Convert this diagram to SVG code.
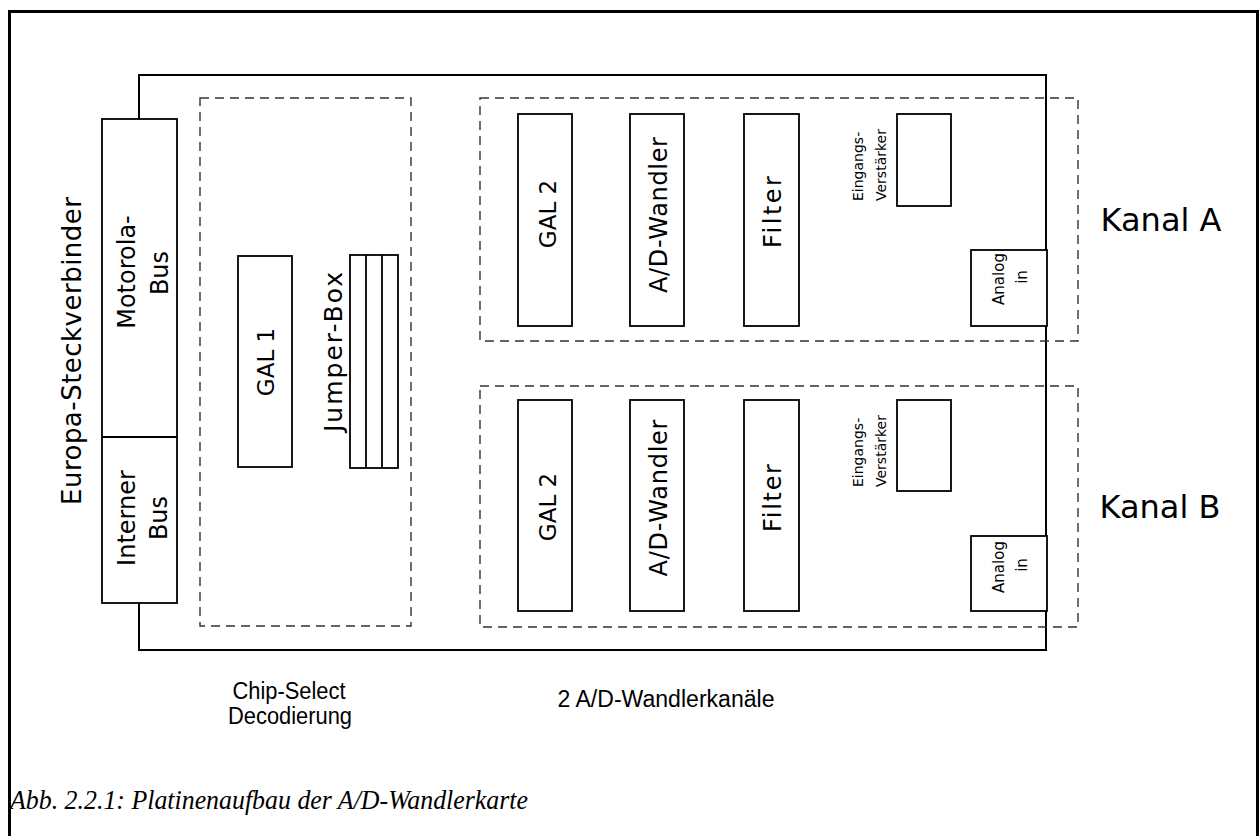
<svg xmlns="http://www.w3.org/2000/svg" width="1260" height="836" viewBox="0 0 1260 836">
<style>
  .frame{fill:none;stroke:#000;stroke-width:3}
  .board{fill:none;stroke:#000;stroke-width:2}
  .box{fill:#fff;stroke:#000;stroke-width:1.8}
  .dash{fill:none;stroke:#333;stroke-width:1.4;stroke-dasharray:9 6}
  .t{font-family:"DejaVu Sans",Verdana,sans-serif;fill:#000;text-anchor:middle}
  .s{font-family:"DejaVu Sans",Verdana,sans-serif;fill:#000;text-anchor:start}
  .n{font-family:"Liberation Sans",Arial,sans-serif;fill:#000;text-anchor:middle}
  .cap{font-family:"Liberation Serif","Times New Roman",serif;font-style:italic;fill:#000}
</style>
<rect width="1260" height="836" fill="#fff"/>
<path class="frame" d="M9.5 840 V11.5 H1257.5 V840"/>
<g id="connectors">
  <path class="board" d="M139 119 V75 H1046 V650 H139 V603"/>
</g>
<g id="europa-steckverbinder">
  <rect class="box" x="102" y="119" width="75" height="484"/>
  <line x1="102" y1="437" x2="177" y2="437" stroke="#000" stroke-width="1.8"/>
  <text class="t" font-size="26" transform="translate(81,351) rotate(-90)" textLength="308" lengthAdjust="spacing">Europa-Steckverbinder</text>
</g>
<g id="motorola-bus">
  <text class="t" font-size="24" transform="translate(135,272) rotate(-90)">Motorola-</text>
  <text class="t" font-size="24" transform="translate(168,273) rotate(-90)">Bus</text>
</g>
<g id="interner-bus">
  <text class="t" font-size="24" transform="translate(135,518) rotate(-90)">Interner</text>
  <text class="t" font-size="24" transform="translate(167,518) rotate(-90)">Bus</text>
</g>
<g id="chip-select">
  <rect class="dash" x="200" y="98" width="211" height="528"/>
  <text class="n" font-size="23" x="289" y="699" textLength="113" lengthAdjust="spacingAndGlyphs">Chip-Select</text>
  <text class="n" font-size="23" x="290" y="724" textLength="124" lengthAdjust="spacingAndGlyphs">Decodierung</text>
</g>
<g id="gal1">
  <rect class="box" x="238" y="256" width="54" height="211"/>
  <text class="t" font-size="23" transform="translate(274,362) rotate(-90)">GAL 1</text>
</g>
<g id="jumper-box">
  <rect class="box" x="350" y="255" width="48" height="213"/>
  <line x1="366" y1="255" x2="366" y2="468" stroke="#000" stroke-width="1.8"/>
  <line x1="382" y1="255" x2="382" y2="468" stroke="#000" stroke-width="1.8"/>
  <text class="t" font-size="25" transform="translate(342,352) rotate(-90)" textLength="160" lengthAdjust="spacing">Jumper-Box</text>
</g>
<g id="kanal-a">
  <rect class="dash" x="480" y="98" width="598" height="243"/>
  <text class="t" font-size="32" x="1161" y="231">Kanal A</text>
</g>
<g id="gal2-a">
  <rect class="box" x="518" y="114" width="54" height="212"/>
  <text class="t" font-size="23" transform="translate(556,214) rotate(-90)">GAL 2</text>
</g>
<g id="adw-a">
  <rect class="box" x="630" y="114" width="54" height="212"/>
  <text class="t" font-size="24" transform="translate(667,215) rotate(-90)" textLength="156" lengthAdjust="spacing">A/D-Wandler</text>
</g>
<g id="filter-a">
  <rect class="box" x="744" y="114" width="55" height="212"/>
  <text class="t" font-size="24" transform="translate(781,212) rotate(-90)" textLength="72" lengthAdjust="spacing">Filter</text>
</g>
<g id="verstaerker-a">
  <rect class="box" x="897" y="114" width="54" height="92"/>
  <text class="s" font-size="14" transform="translate(863,201) rotate(-90)">Eingangs-</text>
  <text class="s" font-size="14" transform="translate(886,201) rotate(-90)">Verstärker</text>
</g>
<g id="analog-a">
  <rect class="box" x="971" y="250" width="76" height="76"/>
  <text class="t" font-size="15" transform="translate(1004,279) rotate(-90)">Analog</text>
  <text class="t" font-size="15" transform="translate(1027,277) rotate(-90)">in</text>
</g>
<g id="kanal-b">
  <rect class="dash" x="480" y="386" width="598" height="241"/>
  <text class="t" font-size="32" x="1160" y="518">Kanal B</text>
  <text class="n" font-size="23" x="666" y="707" textLength="217" lengthAdjust="spacingAndGlyphs">2 A/D-Wandlerkanäle</text>
</g>
<g id="gal2-b">
  <rect class="box" x="518" y="400" width="54" height="211"/>
  <text class="t" font-size="23" transform="translate(556,507) rotate(-90)">GAL 2</text>
</g>
<g id="adw-b">
  <rect class="box" x="630" y="400" width="54" height="211"/>
  <text class="t" font-size="24" transform="translate(667,498) rotate(-90)" textLength="157" lengthAdjust="spacing">A/D-Wandler</text>
</g>
<g id="filter-b">
  <rect class="box" x="744" y="400" width="55" height="211"/>
  <text class="t" font-size="24" transform="translate(781,498) rotate(-90)" textLength="68" lengthAdjust="spacing">Filter</text>
</g>
<g id="verstaerker-b">
  <rect class="box" x="897" y="400" width="54" height="91"/>
  <text class="s" font-size="14" transform="translate(863,487) rotate(-90)">Eingangs-</text>
  <text class="s" font-size="14" transform="translate(886,487) rotate(-90)">Verstärker</text>
</g>
<g id="analog-b">
  <rect class="box" x="971" y="536" width="76" height="75"/>
  <text class="t" font-size="15" transform="translate(1004,567) rotate(-90)">Analog</text>
  <text class="t" font-size="15" transform="translate(1027,565) rotate(-90)">in</text>
</g>
<g id="caption">
  <text class="cap" font-size="27" x="10" y="809" textLength="518" lengthAdjust="spacingAndGlyphs">Abb. 2.2.1: Platinenaufbau der A/D-Wandlerkarte</text>
</g>
</svg>
